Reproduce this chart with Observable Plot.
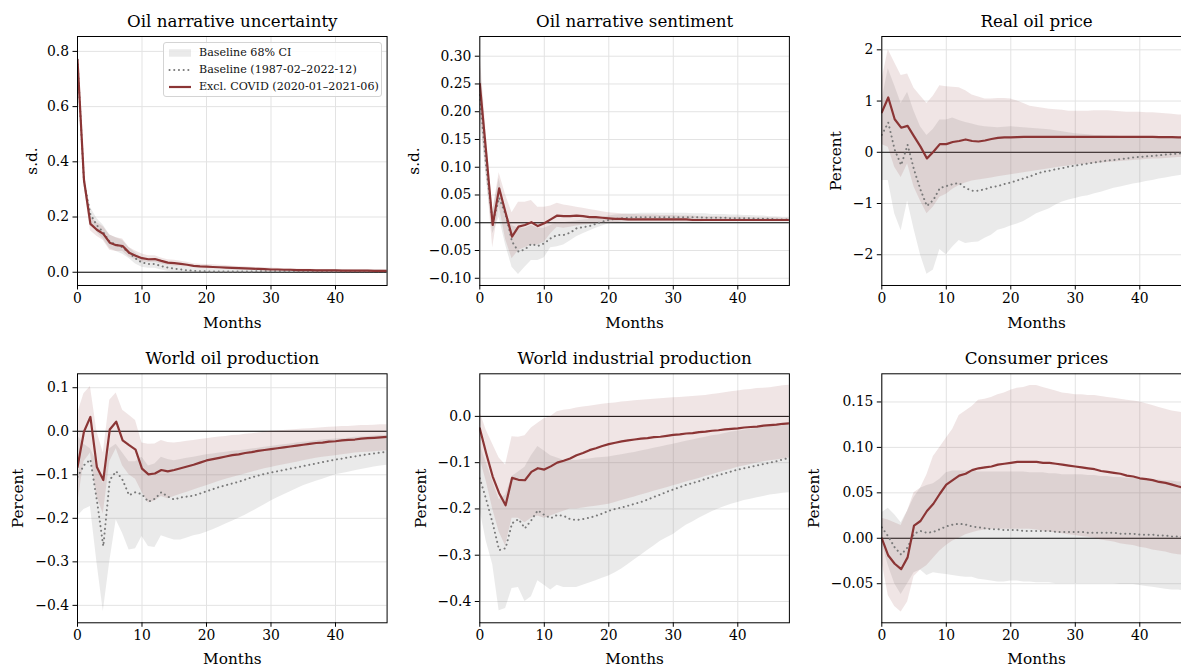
<!DOCTYPE html>
<html><head><meta charset="utf-8">
<script src="https://cdn.jsdelivr.net/npm/d3@7"></script>
<script src="https://cdn.jsdelivr.net/npm/@observablehq/plot@0.6"></script>
<style>
html,body{margin:0;padding:0;background:#fff;}
#root{position:relative;width:1181px;height:667px;overflow:hidden;font-family:"DejaVu Serif",serif;}
.panel{position:absolute;}
.panel svg{max-width:none !important;display:block;}
.legend{position:absolute;left:163px;top:41.5px;width:217px;height:53px;border:1px solid #d4d4d4;border-radius:3px;background:rgba(255,255,255,0.85);font-size:11.1px;color:#111;}
.legend .txt{position:absolute;left:35px;white-space:nowrap;line-height:14px;}
</style></head><body><div id="root"></div>
<script>
// Horizon (months after shock)
const months = d3.range(0, 49);
const xTicks = [0, 10, 20, 30, 40];

// ---------- Oil narrative uncertainty ----------
const uncCovid = [0.77,0.335,0.175,0.154,0.139,0.107,0.098,0.095,0.071,0.06,0.051,0.047,0.048,0.041,0.035,0.033,0.030,0.027,0.023,0.021,0.020,0.019,0.018,0.017,0.016,0.015,0.014,0.013,0.012,0.011,0.010,0.010,0.009,0.009,0.008,0.008,0.008,0.007,0.007,0.007,0.007,0.006,0.006,0.006,0.006,0.006,0.005,0.005,0.005];
const uncCovidLo = [0.76,0.32,0.15,0.13,0.115,0.08,0.075,0.075,0.055,0.045,0.038,0.035,0.036,0.030,0.025,0.023,0.021,0.018,0.015,0.013,0.012,0.011,0.010,0.010,0.009,0.009,0.008,0.008,0.007,0.007,0.006,0.006,0.006,0.005,0.005,0.005,0.005,0.004,0.004,0.004,0.004,0.004,0.004,0.004,0.003,0.003,0.003,0.003,0.003];
const uncCovidHi = [0.78,0.35,0.20,0.18,0.165,0.135,0.125,0.12,0.09,0.077,0.066,0.06,0.06,0.052,0.045,0.043,0.040,0.036,0.031,0.029,0.028,0.027,0.025,0.024,0.022,0.021,0.020,0.018,0.017,0.016,0.015,0.014,0.013,0.013,0.012,0.011,0.011,0.010,0.010,0.010,0.009,0.009,0.009,0.008,0.008,0.008,0.008,0.008,0.007];
const uncBase = [0.77,0.33,0.21,0.17,0.145,0.11,0.1,0.09,0.07,0.05,0.035,0.03,0.03,0.022,0.017,0.013,0.010,0.007,0.005,0.004,0.003,0.003,0.003,0.003,0.003,0.003,0.003,0.003,0.004,0.004,0.004,0.004,0.004,0.004,0.004,0.004,0.004,0.004,0.004,0.004,0.004,0.004,0.004,0.004,0.004,0.004,0.004,0.004,0.004];
const uncBaseLo = [0.76,0.31,0.185,0.145,0.12,0.085,0.075,0.065,0.05,0.03,0.018,0.014,0.014,0.008,0.004,0.001,-0.002,-0.004,-0.005,-0.005,-0.005,-0.005,-0.004,-0.004,-0.004,-0.003,-0.003,-0.003,-0.002,-0.002,-0.002,-0.002,-0.001,-0.001,-0.001,-0.001,-0.001,-0.001,-0.001,-0.001,-0.001,0,0,0,0,0,0,0,0];
const uncBaseHi = [0.78,0.35,0.235,0.195,0.17,0.135,0.125,0.115,0.09,0.07,0.052,0.046,0.046,0.036,0.03,0.025,0.022,0.018,0.015,0.013,0.012,0.011,0.011,0.010,0.010,0.010,0.010,0.010,0.010,0.010,0.010,0.009,0.009,0.009,0.009,0.009,0.009,0.009,0.009,0.009,0.009,0.009,0.008,0.008,0.008,0.008,0.008,0.008,0.008];
const uncTicks = [0, 0.2, 0.4, 0.6, 0.8];

// ---------- Oil narrative sentiment ----------
const senCovid = [0.25,0.125,-0.004,0.062,0.018,-0.025,-0.007,-0.004,0.001,-0.006,-0.001,0.006,0.013,0.012,0.012,0.013,0.012,0.010,0.010,0.009,0.008,0.007,0.007,0.006,0.006,0.006,0.006,0.006,0.006,0.006,0.006,0.006,0.006,0.005,0.005,0.005,0.005,0.005,0.005,0.005,0.005,0.005,0.005,0.005,0.005,0.005,0.005,0.005,0.005];
const senCovidLo = [0.2,0.09,-0.045,0.03,-0.03,-0.065,-0.05,-0.045,-0.04,-0.04,-0.035,-0.02,-0.008,-0.01,-0.008,-0.006,-0.004,-0.003,-0.002,-0.001,0,0,0.001,0.001,0.001,0.001,0.001,0.001,0.001,0.001,0.001,0.001,0.001,0.001,0.001,0.002,0.002,0.002,0.002,0.002,0.002,0.002,0.002,0.002,0.002,0.002,0.002,0.002,0.002];
const senCovidHi = [0.31,0.16,0.02,0.09,0.05,0.018,0.037,0.037,0.04,0.028,0.028,0.03,0.035,0.032,0.03,0.028,0.026,0.024,0.022,0.02,0.018,0.017,0.016,0.015,0.015,0.014,0.014,0.014,0.013,0.013,0.013,0.012,0.012,0.012,0.011,0.011,0.011,0.011,0.010,0.010,0.010,0.010,0.009,0.009,0.009,0.009,0.009,0.008,0.008];
const senBase = [0.23,0.1,0.0,0.045,0.015,-0.034,-0.052,-0.048,-0.038,-0.042,-0.037,-0.028,-0.022,-0.022,-0.018,-0.010,-0.008,-0.006,-0.002,0.002,0.005,0.007,0.008,0.009,0.010,0.010,0.010,0.010,0.010,0.010,0.010,0.010,0.010,0.010,0.010,0.009,0.009,0.009,0.009,0.008,0.008,0.008,0.008,0.007,0.007,0.007,0.006,0.006,0.006];
const senBaseLo = [0.2,0.08,-0.02,0.01,-0.04,-0.08,-0.093,-0.08,-0.068,-0.068,-0.063,-0.045,-0.043,-0.04,-0.033,-0.025,-0.02,-0.015,-0.01,-0.006,-0.002,0,0.001,0.002,0.002,0.002,0.002,0.002,0.002,0.002,0.002,0.002,0.002,0.002,0.002,0.002,0.002,0.002,0.002,0.002,0.002,0.002,0.002,0.002,0.002,0.002,0.002,0.002,0.002];
const senBaseHi = [0.3,0.14,0.02,0.08,0.02,-0.005,-0.01,-0.01,-0.005,-0.01,-0.01,-0.005,0,0,0.002,0.003,0.005,0.006,0.008,0.01,0.012,0.014,0.015,0.016,0.016,0.017,0.017,0.017,0.017,0.017,0.017,0.017,0.017,0.016,0.016,0.016,0.015,0.015,0.015,0.014,0.014,0.013,0.013,0.012,0.012,0.011,0.011,0.010,0.010];
const senTicks = [-0.1, -0.05, 0, 0.05, 0.1, 0.15, 0.2, 0.25, 0.3];

// ---------- Real oil price ----------
const rpoCovid = [0.78,1.07,0.645,0.48,0.515,0.31,0.11,-0.12,0.01,0.16,0.16,0.2,0.22,0.25,0.22,0.21,0.23,0.26,0.28,0.29,0.29,0.295,0.30,0.30,0.30,0.30,0.30,0.30,0.30,0.30,0.30,0.30,0.30,0.30,0.30,0.30,0.30,0.30,0.30,0.30,0.30,0.30,0.30,0.295,0.295,0.295,0.29,0.29,0.29];
const rpoCovidLo = [0.15,0.1,-0.29,-0.49,-0.23,-0.68,-0.95,-1.2,-1.07,-0.88,-0.82,-0.72,-0.65,-0.6,-0.56,-0.54,-0.52,-0.5,-0.48,-0.46,-0.44,-0.42,-0.4,-0.38,-0.36,-0.34,-0.32,-0.3,-0.28,-0.27,-0.25,-0.24,-0.23,-0.22,-0.21,-0.2,-0.19,-0.18,-0.17,-0.16,-0.15,-0.14,-0.13,-0.13,-0.12,-0.11,-0.1,-0.1,-0.09];
const rpoCovidHi = [1.4,2.0,1.75,1.5,1.53,1.25,1.1,0.95,1.1,1.3,1.28,1.27,1.26,1.2,1.12,1.08,1.04,1.04,1.05,1.05,1.04,1.0,0.95,0.9,0.88,0.86,0.84,0.83,0.82,0.80,0.80,0.80,0.80,0.81,0.81,0.81,0.80,0.79,0.78,0.78,0.78,0.77,0.77,0.76,0.75,0.74,0.73,0.72,0.71];
const rpoBase = [0.34,0.58,0.05,-0.25,0.145,-0.34,-0.73,-1.05,-0.93,-0.70,-0.66,-0.62,-0.60,-0.70,-0.75,-0.75,-0.72,-0.68,-0.66,-0.62,-0.59,-0.55,-0.51,-0.47,-0.42,-0.38,-0.36,-0.33,-0.31,-0.28,-0.26,-0.24,-0.22,-0.20,-0.18,-0.16,-0.15,-0.13,-0.12,-0.10,-0.09,-0.08,-0.07,-0.06,-0.045,-0.035,-0.025,-0.015,-0.01];
const rpoBaseLo = [-0.55,-0.55,-1.2,-1.53,-0.95,-1.5,-2.0,-2.38,-2.3,-1.9,-2.0,-1.85,-1.72,-1.78,-1.76,-1.75,-1.68,-1.62,-1.52,-1.49,-1.44,-1.4,-1.35,-1.28,-1.2,-1.15,-1.1,-1.03,-0.97,-0.93,-0.9,-0.87,-0.85,-0.81,-0.78,-0.74,-0.7,-0.68,-0.65,-0.62,-0.6,-0.57,-0.55,-0.52,-0.5,-0.48,-0.46,-0.44,-0.42];
const rpoBaseHi = [1.0,1.63,1.3,0.95,1.17,0.8,0.5,0.33,0.45,0.63,0.63,0.67,0.62,0.58,0.55,0.52,0.5,0.49,0.48,0.49,0.5,0.49,0.48,0.47,0.46,0.45,0.44,0.42,0.40,0.38,0.36,0.35,0.34,0.33,0.33,0.32,0.32,0.31,0.31,0.30,0.30,0.30,0.30,0.30,0.30,0.30,0.30,0.30,0.30];
const rpoTicks = [-2, -1, 0, 1, 2];

// ---------- World oil production ----------
const prodCovid = [-0.082,-0.001,0.033,-0.082,-0.112,0.004,0.022,-0.021,-0.032,-0.042,-0.086,-0.099,-0.097,-0.089,-0.092,-0.089,-0.085,-0.081,-0.077,-0.072,-0.067,-0.064,-0.061,-0.058,-0.055,-0.053,-0.050,-0.048,-0.045,-0.043,-0.041,-0.039,-0.037,-0.035,-0.033,-0.031,-0.029,-0.027,-0.026,-0.024,-0.023,-0.021,-0.020,-0.019,-0.017,-0.016,-0.015,-0.014,-0.013];
const prodCovidLo = [-0.17,-0.07,-0.05,-0.15,-0.19,-0.07,-0.04,-0.08,-0.1,-0.11,-0.14,-0.165,-0.16,-0.15,-0.155,-0.15,-0.145,-0.14,-0.135,-0.13,-0.125,-0.12,-0.115,-0.11,-0.106,-0.102,-0.098,-0.094,-0.09,-0.086,-0.083,-0.08,-0.077,-0.074,-0.071,-0.068,-0.065,-0.062,-0.06,-0.058,-0.056,-0.054,-0.052,-0.05,-0.049,-0.048,-0.047,-0.046,-0.045];
const prodCovidHi = [0.04,0.086,0.103,0.0,-0.05,0.071,0.088,0.048,0.037,0.025,-0.027,-0.03,-0.029,-0.021,-0.026,-0.027,-0.025,-0.023,-0.021,-0.019,-0.017,-0.015,-0.013,-0.012,-0.01,-0.009,-0.007,-0.006,-0.004,-0.002,0.0,0.001,0.002,0.003,0.004,0.005,0.006,0.007,0.008,0.009,0.01,0.011,0.011,0.012,0.013,0.013,0.014,0.015,0.015];
const prodBase = [-0.105,-0.078,-0.065,-0.158,-0.264,-0.112,-0.092,-0.112,-0.147,-0.14,-0.145,-0.162,-0.155,-0.14,-0.15,-0.157,-0.152,-0.15,-0.148,-0.143,-0.138,-0.133,-0.128,-0.124,-0.12,-0.116,-0.111,-0.106,-0.102,-0.098,-0.095,-0.092,-0.089,-0.086,-0.083,-0.08,-0.077,-0.074,-0.071,-0.068,-0.065,-0.063,-0.06,-0.058,-0.055,-0.053,-0.051,-0.049,-0.047];
const prodBaseLo = [-0.196,-0.18,-0.173,-0.3,-0.414,-0.3,-0.204,-0.235,-0.273,-0.27,-0.242,-0.265,-0.267,-0.24,-0.245,-0.25,-0.25,-0.245,-0.24,-0.237,-0.232,-0.226,-0.22,-0.213,-0.207,-0.2,-0.193,-0.185,-0.177,-0.169,-0.16,-0.153,-0.146,-0.139,-0.132,-0.125,-0.12,-0.115,-0.11,-0.105,-0.1,-0.097,-0.094,-0.091,-0.088,-0.085,-0.082,-0.08,-0.078];
const prodBaseHi = [-0.01,-0.03,-0.04,-0.07,-0.12,-0.04,-0.03,-0.05,-0.07,-0.07,-0.06,-0.08,-0.075,-0.06,-0.065,-0.068,-0.065,-0.062,-0.06,-0.057,-0.054,-0.052,-0.05,-0.048,-0.046,-0.045,-0.043,-0.041,-0.039,-0.037,-0.035,-0.033,-0.031,-0.029,-0.027,-0.025,-0.024,-0.022,-0.02,-0.019,-0.018,-0.017,-0.016,-0.014,-0.013,-0.012,-0.011,-0.01,-0.01];
const prodTicks = [-0.4, -0.3, -0.2, -0.1, 0, 0.1];

// ---------- World industrial production ----------
const ipCovid = [-0.026,-0.08,-0.13,-0.166,-0.192,-0.133,-0.137,-0.138,-0.12,-0.112,-0.115,-0.108,-0.1,-0.096,-0.091,-0.084,-0.079,-0.073,-0.069,-0.064,-0.06,-0.057,-0.054,-0.052,-0.05,-0.048,-0.047,-0.045,-0.044,-0.042,-0.04,-0.039,-0.037,-0.036,-0.034,-0.033,-0.031,-0.03,-0.028,-0.027,-0.026,-0.024,-0.023,-0.022,-0.02,-0.019,-0.018,-0.016,-0.015];
const ipCovidLo = [-0.09,-0.14,-0.2,-0.25,-0.28,-0.22,-0.22,-0.23,-0.22,-0.215,-0.22,-0.215,-0.21,-0.205,-0.2,-0.2,-0.198,-0.196,-0.194,-0.192,-0.19,-0.186,-0.182,-0.178,-0.174,-0.17,-0.166,-0.162,-0.158,-0.154,-0.15,-0.146,-0.142,-0.138,-0.134,-0.13,-0.126,-0.122,-0.118,-0.114,-0.11,-0.107,-0.104,-0.101,-0.098,-0.096,-0.094,-0.092,-0.09];
const ipCovidHi = [0.01,-0.03,-0.06,-0.09,-0.105,-0.044,-0.045,-0.042,-0.025,-0.015,-0.005,0.0,0.01,0.013,0.015,0.018,0.02,0.022,0.024,0.026,0.028,0.029,0.031,0.032,0.034,0.035,0.036,0.037,0.038,0.039,0.04,0.041,0.042,0.043,0.044,0.045,0.047,0.049,0.051,0.053,0.055,0.057,0.058,0.06,0.061,0.062,0.064,0.066,0.067];
const ipBase = [-0.134,-0.18,-0.231,-0.289,-0.285,-0.231,-0.222,-0.242,-0.224,-0.203,-0.213,-0.22,-0.213,-0.215,-0.222,-0.224,-0.222,-0.219,-0.215,-0.21,-0.204,-0.2,-0.197,-0.193,-0.189,-0.185,-0.18,-0.174,-0.169,-0.163,-0.158,-0.153,-0.148,-0.144,-0.14,-0.135,-0.131,-0.127,-0.123,-0.119,-0.115,-0.112,-0.109,-0.106,-0.103,-0.1,-0.097,-0.093,-0.09];
const ipBaseLo = [-0.2,-0.27,-0.32,-0.42,-0.415,-0.372,-0.37,-0.4,-0.39,-0.355,-0.365,-0.375,-0.365,-0.37,-0.37,-0.37,-0.365,-0.36,-0.355,-0.35,-0.345,-0.338,-0.33,-0.32,-0.31,-0.3,-0.29,-0.28,-0.27,-0.262,-0.255,-0.245,-0.235,-0.228,-0.22,-0.213,-0.206,-0.2,-0.195,-0.19,-0.186,-0.182,-0.179,-0.176,-0.173,-0.17,-0.168,-0.166,-0.165];
const ipBaseHi = [-0.06,-0.1,-0.14,-0.18,-0.17,-0.13,-0.12,-0.11,-0.085,-0.065,-0.075,-0.085,-0.09,-0.095,-0.095,-0.095,-0.093,-0.092,-0.09,-0.089,-0.088,-0.085,-0.083,-0.08,-0.078,-0.075,-0.072,-0.069,-0.066,-0.063,-0.06,-0.057,-0.054,-0.051,-0.048,-0.045,-0.042,-0.04,-0.037,-0.034,-0.032,-0.03,-0.028,-0.026,-0.024,-0.022,-0.02,-0.019,-0.018];
const ipTicks = [-0.4, -0.3, -0.2, -0.1, 0];

// ---------- Consumer prices ----------
const cpiCovid = [0.0,-0.019,-0.028,-0.034,-0.021,0.014,0.019,0.03,0.038,0.049,0.059,0.064,0.069,0.071,0.075,0.077,0.078,0.079,0.081,0.082,0.083,0.084,0.084,0.084,0.084,0.083,0.083,0.082,0.081,0.080,0.079,0.078,0.077,0.076,0.074,0.073,0.072,0.071,0.069,0.068,0.066,0.065,0.064,0.062,0.061,0.059,0.057,0.055,0.054];
const cpiCovidLo = [-0.025,-0.063,-0.075,-0.081,-0.07,-0.042,-0.035,-0.03,-0.022,-0.014,-0.008,-0.003,0.0,0.004,0.006,0.008,0.009,0.01,0.01,0.01,0.01,0.01,0.01,0.01,0.009,0.008,0.007,0.006,0.005,0.004,0.003,0.002,0.001,0.0,-0.002,-0.003,-0.004,-0.006,-0.007,-0.008,-0.01,-0.011,-0.013,-0.014,-0.015,-0.017,-0.018,-0.019,-0.02];
const cpiCovidHi = [0.022,0.02,0.017,0.014,0.03,0.05,0.055,0.07,0.09,0.1,0.11,0.12,0.135,0.14,0.145,0.152,0.153,0.155,0.158,0.16,0.163,0.165,0.166,0.168,0.168,0.166,0.164,0.162,0.16,0.159,0.158,0.158,0.157,0.157,0.156,0.155,0.154,0.153,0.152,0.151,0.15,0.148,0.146,0.144,0.142,0.14,0.139,0.138,0.137];
const cpiBase = [0.012,0.002,-0.01,-0.018,-0.01,0.005,0.008,0.006,0.007,0.01,0.013,0.015,0.016,0.015,0.013,0.012,0.011,0.010,0.010,0.009,0.009,0.009,0.008,0.008,0.008,0.008,0.008,0.007,0.007,0.007,0.007,0.007,0.006,0.006,0.006,0.006,0.006,0.005,0.005,0.005,0.004,0.004,0.004,0.003,0.003,0.002,0.002,0.001,0.001];
const cpiBaseLo = [-0.005,-0.03,-0.05,-0.062,-0.05,-0.038,-0.035,-0.041,-0.038,-0.039,-0.04,-0.041,-0.042,-0.043,-0.043,-0.045,-0.046,-0.047,-0.048,-0.048,-0.047,-0.047,-0.048,-0.048,-0.049,-0.049,-0.049,-0.05,-0.05,-0.05,-0.05,-0.05,-0.05,-0.05,-0.05,-0.05,-0.05,-0.051,-0.051,-0.051,-0.052,-0.053,-0.054,-0.055,-0.056,-0.057,-0.057,-0.058,-0.058];
const cpiBaseHi = [0.028,0.033,0.026,0.017,0.03,0.045,0.055,0.058,0.06,0.065,0.072,0.074,0.074,0.074,0.074,0.073,0.073,0.073,0.073,0.073,0.073,0.073,0.073,0.072,0.072,0.072,0.071,0.071,0.07,0.07,0.07,0.07,0.069,0.069,0.068,0.068,0.067,0.067,0.066,0.066,0.065,0.065,0.064,0.064,0.063,0.063,0.062,0.062,0.062];
const cpiTicks = [-0.05, 0, 0.05, 0.1, 0.15];

// ---------- panel configuration ----------
const panels = [
  {title:"Oil narrative uncertainty", ylabel:"s.d.", c:uncCovid, cLo:uncCovidLo, cHi:uncCovidHi, b:uncBase, bLo:uncBaseLo, bHi:uncBaseHi, yDomain:[-0.048,0.854], yTicks:uncTicks, dec:1, left:0, top:0, ml:77, mt:36, h:335, ylabOff:45},
  {title:"Oil narrative sentiment", ylabel:"s.d.", c:senCovid, cLo:senCovidLo, cHi:senCovidHi, b:senBase, bLo:senBaseLo, bHi:senBaseHi, yDomain:[-0.113,0.3355], yTicks:senTicks, dec:2, left:400, top:0, ml:79.3, mt:36, h:335, ylabOff:66},
  {title:"Real oil price", ylabel:"Percent", c:rpoCovid, cLo:rpoCovidLo, cHi:rpoCovidHi, b:rpoBase, bLo:rpoBaseLo, bHi:rpoBaseHi, yDomain:[-2.6,2.26], yTicks:rpoTicks, dec:0, left:800, top:0, ml:81.3, mt:36, h:335, ylabOff:46},
  {title:"World oil production", ylabel:"Percent", c:prodCovid, cLo:prodCovidLo, cHi:prodCovidHi, b:prodBase, bLo:prodBaseLo, bHi:prodBaseHi, yDomain:[-0.44,0.132], yTicks:prodTicks, dec:1, left:0, top:335, ml:77, mt:38.3, h:332, ylabOff:59},
  {title:"World industrial production", ylabel:"Percent", c:ipCovid, cLo:ipCovidLo, cHi:ipCovidHi, b:ipBase, bLo:ipBaseLo, bHi:ipBaseHi, yDomain:[-0.446,0.092], yTicks:ipTicks, dec:1, left:400, top:335, ml:79.3, mt:38.3, h:332, ylabOff:59},
  {title:"Consumer prices", ylabel:"Percent", c:cpiCovid, cLo:cpiCovidLo, cHi:cpiCovidHi, b:cpiBase, bLo:cpiBaseLo, bHi:cpiBaseHi, yDomain:[-0.093,0.181], yTicks:cpiTicks, dec:2, left:800, top:335, ml:81.3, mt:38.3, h:332, ylabOff:68}
];

const RED = "#8b3535";
const GRAY = "#808080";
const DOT = "#7a7a7a";
const FRAME_W = 309.6;
const root = document.getElementById("root");

for (const p of panels) {
  const rows = months.map((m, i) => ({m, c:p.c[i], cLo:p.cLo[i], cHi:p.cHi[i], b:p.b[i], bLo:p.bLo[i], bHi:p.bHi[i]}));
  const fmt = d => (d < -1e-9 ? "\u2212" : "") + Math.abs(d).toFixed(p.dec);
  const mb = p.h - p.mt - 249;
  const mr = 30;
  const W = p.ml + FRAME_W + mr;
  const svg = Plot.plot({
    width: W,
    height: p.h,
    marginLeft: p.ml, marginRight: mr, marginTop: p.mt, marginBottom: mb,
    x: {domain: [0, 48]},
    y: {domain: p.yDomain},
    style: {fontFamily: "DejaVu Serif", fontSize: "13.9px", background: "transparent", overflow: "visible", color: "#000", maxWidth: "none"},
    marks: [
      Plot.gridX(xTicks, {stroke: "#e3e3e3", strokeOpacity: 1, strokeWidth: 1}),
      Plot.gridY(p.yTicks, {stroke: "#e3e3e3", strokeOpacity: 1, strokeWidth: 1}),
      Plot.ruleY([0], {stroke: "#000", strokeWidth: 1}),
      Plot.areaY(rows, {x: "m", y1: "bLo", y2: "bHi", fill: GRAY, fillOpacity: 0.165, clip: true}),
      Plot.areaY(rows, {x: "m", y1: "cLo", y2: "cHi", fill: RED, fillOpacity: 0.13, clip: true}),
      Plot.lineY(rows, {x: "m", y: "b", stroke: DOT, strokeWidth: 2, strokeDasharray: "0.1,4.6", strokeLinecap: "round", clip: true}),
      Plot.lineY(rows, {x: "m", y: "c", stroke: RED, strokeWidth: 2.2, clip: true}),
      Plot.frame({stroke: "#000", strokeWidth: 1}),
      Plot.axisX(xTicks, {tickSize: 4.5, tickPadding: 3.3, label: null}),
      Plot.axisY(p.yTicks, {tickSize: 4.5, tickPadding: 4, tickFormat: fmt, label: null}),
      Plot.text([p.title], {text: d => d, frameAnchor: "top", dy: -15, fontSize: 16.7, lineAnchor: "middle", fill: "#000"}),
      Plot.text(["Months"], {text: d => d, frameAnchor: "bottom", dy: p.top ? 36.5 : 38, fontSize: 15.3, lineAnchor: "middle", fill: "#000"}),
      Plot.text([p.ylabel], {text: d => d, frameAnchor: "left", dx: -p.ylabOff, rotate: -90, fontSize: 15.3, lineAnchor: "middle", textAnchor: "middle", fill: "#000"})
    ]
  });
  const div = document.createElement("div");
  div.className = "panel";
  div.style.left = p.left + "px";
  div.style.top = p.top + "px";
  div.style.width = W + "px";
  div.style.height = p.h + "px";
  div.appendChild(svg);
  root.appendChild(div);
}

// ---------- legend (first panel) ----------
const legendItems = ["Baseline 68% CI", "Baseline (1987-02\u20132022-12)", "Excl. COVID (2020-01\u20132021-06)"];
const leg = document.createElement("div");
leg.className = "legend";
const ys = [3.5, 20.8, 37.5];
legendItems.forEach((label, i) => {
  const sw = document.createElementNS("http://www.w3.org/2000/svg", "svg");
  sw.setAttribute("width", 24); sw.setAttribute("height", 14);
  sw.style.position = "absolute"; sw.style.left = "4px"; sw.style.top = ys[i] + "px";
  if (i === 0) {
    sw.innerHTML = `<rect x="1" y="3.3" width="22" height="7.4" fill="${GRAY}" fill-opacity="0.165"></rect>`;
  } else if (i === 1) {
    sw.innerHTML = `<line x1="1.5" x2="23" y1="7" y2="7" stroke="${DOT}" stroke-width="2" stroke-dasharray="0.1,4.6" stroke-linecap="round"></line>`;
  } else {
    sw.innerHTML = `<line x1="1" x2="23" y1="7" y2="7" stroke="${RED}" stroke-width="2.2"></line>`;
  }
  leg.appendChild(sw);
  const t = document.createElement("div");
  t.className = "txt";
  t.style.top = ys[i] + "px";
  t.textContent = label;
  leg.appendChild(t);
});
root.appendChild(leg);
</script>
</body></html>
